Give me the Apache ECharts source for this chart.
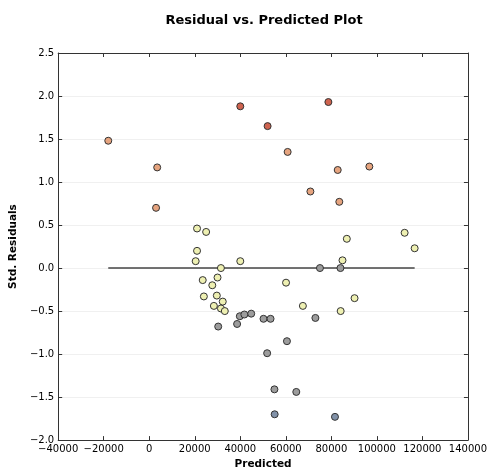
<!DOCTYPE html>
<html>
<head>
<meta charset="utf-8">
<script src="https://cdn.jsdelivr.net/npm/echarts@6/dist/echarts.min.js"></script>
<style>html,body{margin:0;padding:0;background:#fff;}#chart{width:490px;height:475px;}</style>
</head>
<body>
<div id="chart"></div>
<script>
const predicted = [-18000, 3500, 3000, 40000, 52000, 21000, 25000, 21000, 78700, 60800, 82800, 96700, 70800, 83500, 86800, 112200, 116600, 20400, 40000, 31500, 23500, 30000, 27700, 24000, 29700, 32300, 28400, 31500, 33200, 30300, 38600, 39800, 41800, 44800, 50200, 53300, 51800, 84900, 75000, 84000, 60100, 67500, 90200, 84100, 73000, 60500, 55000, 64600, 55100, 81600];
const residuals = [1.48, 1.17, 0.70, 1.88, 1.65, 0.46, 0.42, 0.20, 1.93, 1.35, 1.14, 1.18, 0.89, 0.77, 0.34, 0.41, 0.23, 0.08, 0.08, 0.00, -0.14, -0.11, -0.20, -0.33, -0.32, -0.39, -0.44, -0.47, -0.50, -0.68, -0.65, -0.56, -0.54, -0.53, -0.59, -0.59, -0.99, 0.09, 0.00, 0.00, -0.17, -0.44, -0.35, -0.50, -0.58, -0.85, -1.41, -1.44, -1.70, -1.73];
// colour-scale level of each point (0 = blue-grey ... 4 = red)
const shade = [3, 3, 3, 4, 4, 2, 2, 2, 4, 3, 3, 3, 3, 3, 2, 2, 2, 2, 2, 2, 2, 2, 2, 2, 2, 2, 2, 2, 2, 1, 1, 1, 1, 1, 1, 1, 1, 2, 1, 1, 2, 2, 2, 2, 1, 1, 1, 1, 0, 0];
const xTicks = {min: -40000, max: 140000, interval: 20000};
const yTicks = {min: -2.0, max: 2.5, interval: 0.5};

const pts = predicted.map((p, i) => [p, residuals[i], shade[i]]);
const lineData = [[Math.min(...predicted), 0], [Math.max(...predicted), 0]];
const minus = s => String(s).replace('-', '\u2212');
const font = 'DejaVu Sans';

const chart = echarts.init(document.getElementById('chart'), null, {renderer: 'canvas'});
const axisLine = {show: true, onZero: false, lineStyle: {color: '#333', width: 1}};
const tick = {show: true, inside: true, length: 4, lineStyle: {color: '#333'}};
chart.setOption({
  animation: false,
  backgroundColor: '#fff',
  title: {
    text: 'Residual vs. Predicted Plot', left: 259, top: 9, textAlign: 'center',
    textStyle: {fontFamily: font, fontWeight: 'bold', fontSize: 13, color: '#000'}
  },
  grid: {left: 56, right: 21, top: 53, bottom: 30, containLabel: false},
  visualMap: {
    show: false, type: 'piecewise', dimension: 2, seriesIndex: 0,
    pieces: [
      {value: 0, color: '#8191a8'},
      {value: 1, color: '#9c9c9c'},
      {value: 2, color: '#eef0b2'},
      {value: 3, color: '#e6a47f'},
      {value: 4, color: '#cf634f'}
    ]
  },
  xAxis: [{
    type: 'value', position: 'bottom', min: xTicks.min, max: xTicks.max, interval: xTicks.interval,
    name: 'Predicted', nameLocation: 'middle', nameGap: 17,
    nameTextStyle: {fontFamily: font, fontWeight: 'bold', fontSize: 10.5, color: '#000'},
    axisLine, axisTick: tick,
    axisLabel: {fontFamily: font, fontSize: 10, color: '#000', margin: 4, formatter: v => minus(v)},
    splitLine: {show: false}
  }, {
    type: 'value', position: 'top', min: xTicks.min, max: xTicks.max, interval: xTicks.interval,
    axisLine, axisTick: tick, axisLabel: {show: false}, splitLine: {show: false}
  }],
  yAxis: [{
    type: 'value', position: 'left', min: yTicks.min, max: yTicks.max, interval: yTicks.interval,
    name: 'Std. Residuals', nameLocation: 'middle', nameGap: 33,
    nameTextStyle: {fontFamily: font, fontWeight: 'bold', fontSize: 10.5, color: '#000'},
    axisLine, axisTick: tick,
    axisLabel: {fontFamily: font, fontSize: 10, color: '#000', margin: 4, formatter: v => minus(v.toFixed(1))},
    splitLine: {show: true, lineStyle: {color: '#f0f0f0', width: 1}}
  }, {
    type: 'value', position: 'right', min: yTicks.min, max: yTicks.max, interval: yTicks.interval,
    axisLine, axisTick: tick, axisLabel: {show: false}, splitLine: {show: false}
  }],
  series: [{
    type: 'scatter', data: pts, symbol: 'circle', symbolSize: 7,
    itemStyle: {borderColor: '#333', borderWidth: 1, opacity: 1}, z: 3
  }, {
    type: 'line', data: lineData, symbol: 'none',
    lineStyle: {color: '#444', width: 1.5}, z: 2
  }]
});
</script>
</body>
</html>
